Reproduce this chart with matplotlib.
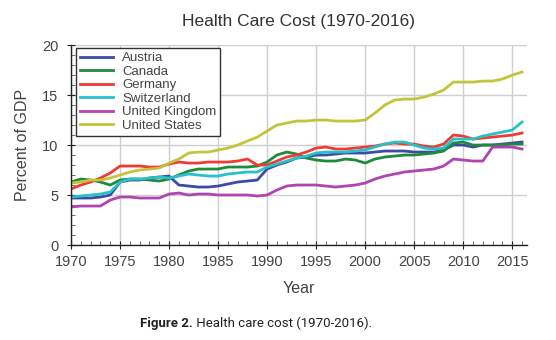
import matplotlib
matplotlib.use('Agg')
import matplotlib.pyplot as plt
from matplotlib.ticker import MultipleLocator

years = list(range(1970, 2017))

austria = [4.7, 4.7, 4.7, 4.8, 5.0, 6.3, 6.5, 6.5, 6.7, 6.8,
           6.9, 6.0, 5.9, 5.8, 5.8, 5.9, 6.1, 6.3, 6.4, 6.5,
           7.6, 8.0, 8.3, 8.7, 8.8, 9.0, 9.0, 9.1, 9.2, 9.2,
           9.2, 9.3, 9.4, 9.4, 9.4, 9.3, 9.3, 9.3, 9.5, 10.0,
           10.0, 9.8, 10.0, 10.0, 10.1, 10.2, 10.3]
canada = [6.3, 6.6, 6.5, 6.3, 6.0, 6.5, 6.6, 6.6, 6.5, 6.4,
          6.6, 7.0, 7.4, 7.6, 7.6, 7.6, 7.8, 7.8, 7.8, 7.9,
          8.3, 9.0, 9.3, 9.1, 8.7, 8.5, 8.4, 8.4, 8.6, 8.5,
          8.2, 8.6, 8.8, 8.9, 9.0, 9.0, 9.1, 9.2, 9.4, 10.2,
          10.3, 10.0, 10.0, 10.0, 10.0, 10.1, 10.1]
germany = [5.6, 6.0, 6.3, 6.7, 7.2, 7.9, 7.9, 7.9, 7.8, 7.8,
           8.1, 8.3, 8.2, 8.2, 8.3, 8.3, 8.3, 8.4, 8.6, 8.0,
           8.0, 8.4, 8.8, 9.0, 9.3, 9.7, 9.8, 9.6, 9.6, 9.7,
           9.8, 9.9, 10.1, 10.2, 10.1, 10.1, 9.9, 9.8, 10.1, 11.0,
           10.9, 10.6, 10.7, 10.8, 10.9, 11.0, 11.2]
switzerland = [4.8, 4.9, 5.0, 5.1, 5.3, 6.3, 6.6, 6.6, 6.7, 6.8,
               6.7, 6.9, 7.1, 7.0, 6.9, 6.9, 7.1, 7.2, 7.3, 7.3,
               7.8, 8.1, 8.4, 8.7, 8.9, 9.2, 9.3, 9.3, 9.3, 9.4,
               9.5, 9.8, 10.1, 10.3, 10.3, 10.0, 9.7, 9.6, 9.7, 10.6,
               10.6, 10.6, 10.9, 11.1, 11.3, 11.5, 12.3]
uk = [3.8, 3.9, 3.9, 3.9, 4.5, 4.8, 4.8, 4.7, 4.7, 4.7,
      5.1, 5.2, 5.0, 5.1, 5.1, 5.0, 5.0, 5.0, 5.0, 4.9,
      5.0, 5.5, 5.9, 6.0, 6.0, 6.0, 5.9, 5.8, 5.9, 6.0,
      6.2, 6.6, 6.9, 7.1, 7.3, 7.4, 7.5, 7.6, 7.9, 8.6,
      8.5, 8.4, 8.4, 9.8, 9.8, 9.8, 9.6]
us = [6.2, 6.3, 6.5, 6.5, 6.7, 7.0, 7.3, 7.5, 7.6, 7.7,
      8.2, 8.6, 9.2, 9.3, 9.3, 9.5, 9.7, 10.0, 10.4, 10.8,
      11.4, 12.0, 12.2, 12.4, 12.4, 12.5, 12.5, 12.4, 12.4, 12.4,
      12.5, 13.2, 14.0, 14.5, 14.6, 14.6, 14.8, 15.1, 15.5, 16.3,
      16.3, 16.3, 16.4, 16.4, 16.6, 17.0, 17.3]

countries = ['Austria', 'Canada', 'Germany', 'Switzerland', 'United Kingdom', 'United States']
series = [austria, canada, germany, switzerland, uk, us]
colors = ['#3d4ba6', '#1f8a3c', '#ef3b36', '#27c1c9', '#b044b0', '#c3c43c']

plt.rcParams['font.family'] = ['Liberation Sans', 'DejaVu Sans']

fig = plt.figure(figsize=(5.56, 3.4), dpi=100)
ax = fig.add_axes([0.1277, 0.2794, 0.820, 0.588])

for vals, name, col in zip(series, countries, colors):
    ax.plot(years, vals, color=col, lw=2.0, label=name)

ax.set_xlim(1970, 2016.5)
ax.set_ylim(0, 20)
ax.xaxis.set_major_locator(MultipleLocator(5))
ax.xaxis.set_minor_locator(MultipleLocator(1))
ax.yaxis.set_major_locator(MultipleLocator(5))
ax.yaxis.set_minor_locator(MultipleLocator(1))
ax.grid(True, which='major', color='#cfcfcf', lw=1)
ax.set_axisbelow(True)
for s in ['top', 'right']:
    ax.spines[s].set_visible(False)
for s in ['left', 'bottom']:
    ax.spines[s].set_color('#222222')
    ax.spines[s].set_linewidth(1)
ax.tick_params(which='major', direction='inout', length=6, color='#222222',
               labelsize=10.5, labelcolor='#444444')
ax.tick_params(axis='x', which='major', pad=4)
ax.tick_params(axis='y', which='major', pad=6)
ax.tick_params(which='minor', direction='in', length=3, color='#555555')

ax.set_title('Health Care Cost (1970-2016)', fontsize=12.5, color='#333333', pad=14)
ax.set_xlabel('Year', fontsize=11.5, color='#444444', labelpad=9)
ax.set_ylabel('Percent of GDP', fontsize=11.5, color='#444444', labelpad=9)

leg = ax.legend(loc='upper left', bbox_to_anchor=(0.011, 0.985), borderaxespad=0,
                fontsize=9.5, labelspacing=0.1, handlelength=2.5, handletextpad=0.7,
                fancybox=False, framealpha=1, borderpad=0.3)
leg.get_frame().set_edgecolor('#333333')
leg.get_frame().set_linewidth(1)
for t in leg.get_texts():
    t.set_color('#444444')

# caption: bold label followed by plain text, centred under the chart
cap_font = ['Roboto', 'DejaVu Sans']
t1 = fig.text(0, 0.05, 'Figure 2.', fontsize=9.5, fontweight='bold', ha='left',
              va='center', family=cap_font, color='#222222')
t2 = fig.text(0, 0.05, ' Health care cost (1970-2016).', fontsize=9.5, ha='left',
              va='center', family=cap_font, color='#222222')
r = fig.canvas.get_renderer()
w1 = t1.get_window_extent(r).width
w2 = t2.get_window_extent(r).width
start = 256 - (w1 + w2) / 2
t1.set_x(start / 556)
t2.set_x((start + w1) / 556)

fig.savefig('out.png', dpi=100)
